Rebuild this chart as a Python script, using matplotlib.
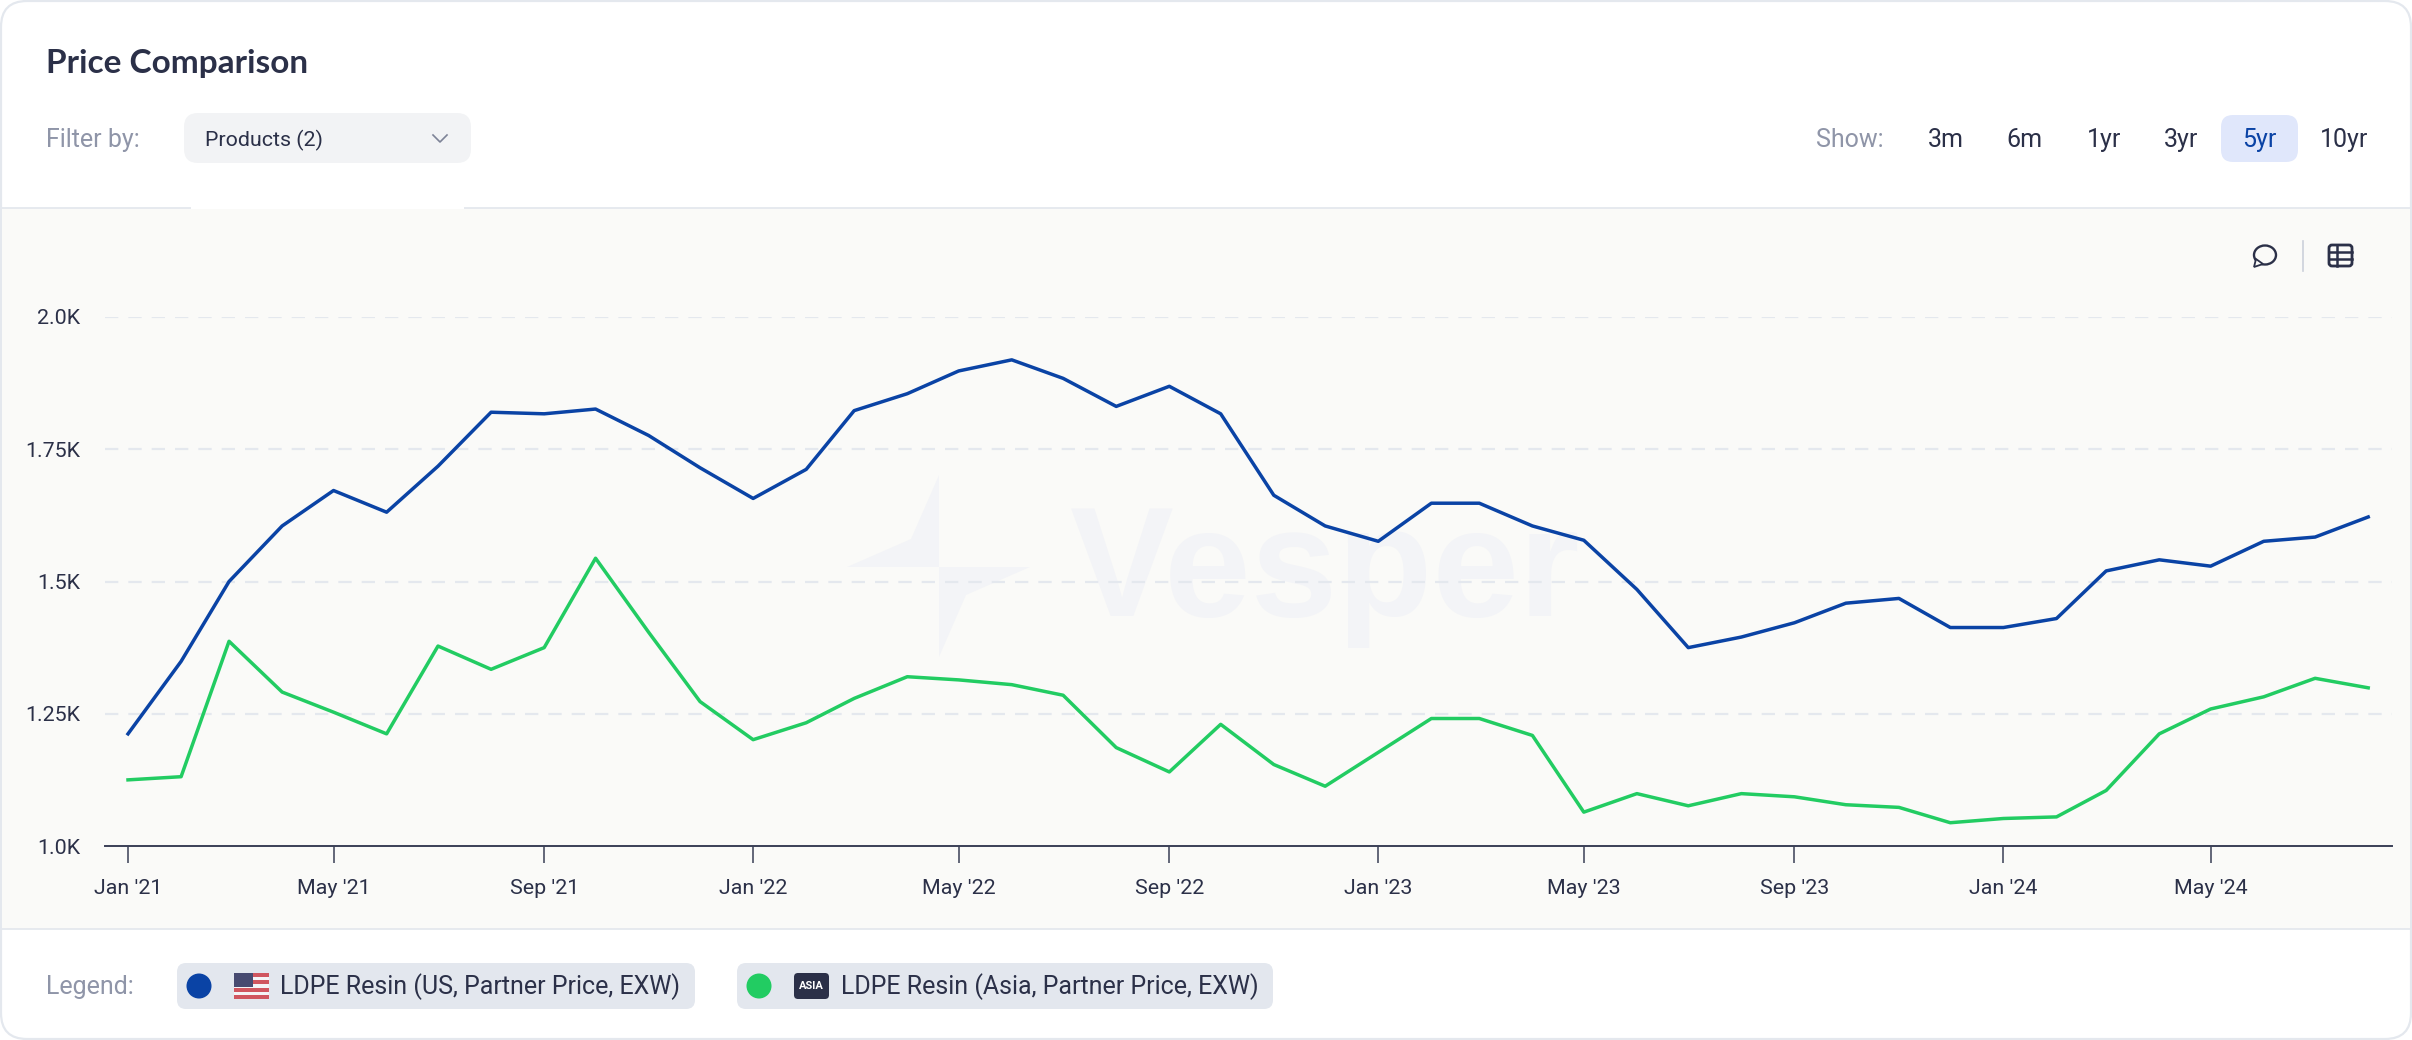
import numpy as np
import pandas as pd
import matplotlib
matplotlib.use("Agg")
import matplotlib.pyplot as plt
import matplotlib.dates as mdates
from matplotlib.patches import FancyBboxPatch, Rectangle, Polygon, Circle, Ellipse

W, H = 2412, 1040

months = pd.date_range("2021-01-01", "2024-08-01", freq="MS")
us_price = [1212, 1349, 1500, 1605, 1672, 1631, 1718, 1820, 1817, 1826, 1776, 1715,
            1657, 1712, 1823, 1855, 1898, 1919, 1884, 1831, 1869, 1817, 1663, 1605,
            1576, 1648, 1648, 1605, 1578, 1485, 1375, 1395, 1422, 1459, 1468, 1413,
            1413, 1430, 1520, 1541, 1529, 1576, 1584, 1622]
asia_price = [1125, 1131, 1387, 1291, 1253, 1212, 1378, 1334, 1375, 1544, 1404, 1273,
              1201, 1233, 1279, 1320, 1314, 1305, 1285, 1186, 1140, 1230, 1154, 1113,
              1177, 1241, 1241, 1209, 1064, 1099, 1076, 1099, 1093, 1078, 1073, 1044,
              1052, 1055, 1105, 1212, 1259, 1282, 1317, 1299]
y_ticks = [1000, 1250, 1500, 1750, 2000]
y_labels = ["1.0K", "1.25K", "1.5K", "1.75K", "2.0K"]
show_options = ["3m", "6m", "1yr", "3yr", "5yr", "10yr"]
legend_us = "LDPE Resin (US, Partner Price, EXW)"
legend_asia = "LDPE Resin (Asia, Partner Price, EXW)"

DARK = "#2b3048"
GREY = "#8f95a8"
BLUE = "#0a43a5"
GREEN = "#22cc62"
LINE = "#e4e8ee"
FONT = "Roboto"

plt.rcParams["font.family"] = [FONT, "DejaVu Sans"]

fig = plt.figure(figsize=(W / 100, H / 100), dpi=100, facecolor="white")

# whole figure canvas in pixels for the page furniture
ui = fig.add_axes([0, 0, 1, 1])
ui.set_xlim(0, W)
ui.set_ylim(H, 0)
ui.axis("off")


def rrect(x0, y0, x1, y1, r, fc, ec="none", lw=0, z=2):
    p = FancyBboxPatch((x0 + r, y0 + r), x1 - x0 - 2 * r, y1 - y0 - 2 * r,
                       boxstyle=f"round,pad={r},rounding_size={r}",
                       fc=fc, ec=ec, lw=lw, zorder=z)
    ui.add_patch(p)
    return p


def label(x, y, s, size=18, color=DARK, ha="left", **kw):
    ui.text(x, y, s, fontsize=size, color=color, ha=ha, va="center", zorder=5, **kw)


# card and chart panel
rrect(1, 1, W - 1, H - 1, 26, "white", ec=LINE, lw=1.6, z=1)
ui.add_patch(Rectangle((2, 208), W - 4, 721, fc="#fafaf8", ec="none", zorder=1.5))
ui.plot([2, W - 2], [207.5, 207.5], color=LINE, lw=1.3, zorder=2)
ui.plot([2, W - 2], [929, 929], color=LINE, lw=1.3, zorder=2)
ui.plot([192, 463], [207.5, 207.5], color="white", lw=1.5, zorder=2.1)

# header
label(46, 63, "Price Comparison", size=24, family="Lato", weight="bold")
label(46, 140, "Filter by:", color=GREY)
rrect(184, 113, 471, 163, 14, "#f2f3f5")
label(205, 140, "Products (2)", size=15.4)
ui.plot([433, 440, 447], [135, 142, 135], color="#7d8397", lw=1.2, zorder=5)

label(1816, 140, "Show:", color=GREY)
rrect(2221, 115, 2298, 162, 12, "#e0e7fb")
for name, cx in zip(show_options, [1946, 2024, 2104, 2181, 2259, 2344]):
    label(cx, 140, name, ha="center", color=BLUE if name == "5yr" else DARK)

# panel icons
ui.add_patch(Ellipse((2265, 255), 22, 19, fc="none", ec=DARK, lw=1.7, zorder=5))
ui.add_patch(Polygon([[2256, 259], [2254, 267], [2263, 264]], fc="#fafaf8", ec=DARK, lw=1.3, zorder=5))
ui.plot([2303, 2303], [241, 271], color="#ccd0da", lw=1.2, zorder=5)
rrect(2329, 245, 2352, 266, 3, "none", ec=DARK, lw=2, z=5)
ui.plot([2329, 2352], [252, 252], color=DARK, lw=1.8, zorder=5)
ui.plot([2329, 2352], [259, 259], color=DARK, lw=1.8, zorder=5)
ui.plot([2337, 2337], [245, 266], color=DARK, lw=1.8, zorder=5)

# watermark
ui.add_patch(Polygon([[939, 475], [911, 539], [847, 567], [939, 567]], fc="#f3f4f7", ec="none", zorder=1.7))
ui.add_patch(Polygon([[939, 567], [1030, 567], [966, 595], [939, 657]], fc="#f3f4f7", ec="none", zorder=1.7))
ui.text(1070, 616, "Vesper", fontsize=112, color="#f3f4f7", family="Liberation Sans",
        weight="bold", ha="left", va="baseline", zorder=1.7)

# legend row
label(46, 987, "Legend:", color=GREY)
rrect(177, 963, 695, 1009, 9, "#e3e7ee")
rrect(737, 963, 1273, 1009, 9, "#e3e7ee")
ui.add_patch(Circle((199, 986), 12.5, fc=BLUE, ec="none", zorder=5))
ui.add_patch(Circle((759, 986), 12.5, fc=GREEN, ec="none", zorder=5))

# US flag
ui.add_patch(Rectangle((234, 973), 35, 26, fc="#f4f4f6", ec="none", zorder=5))
for i in range(0, 7, 2):
    ui.add_patch(Rectangle((234, 973 + i * 26 / 7), 35, 26 / 7, fc="#d0565f", ec="none", zorder=5.1))
ui.add_patch(Rectangle((234, 973), 19, 14, fc="#474a70", ec="none", zorder=5.2))
label(280, 987, legend_us)

# Asia badge
rrect(794, 973, 829, 999, 4, DARK, z=5)
ui.text(811.5, 986, "ASIA", fontsize=8, color="white", ha="center", va="center", weight="bold", zorder=6)
label(841, 987, legend_asia)

# chart axes sit on the panel, 2.0K at top edge and 1.0K on the baseline
left, right, top, bottom = 105, 2392, 317, 846
ax = fig.add_axes([left / W, 1 - bottom / H, (right - left) / W, (bottom - top) / H])
ax.patch.set_alpha(0)
px_per_day = 1.7127
t0 = mdates.date2num(pd.Timestamp("2021-01-01"))
ax.set_xlim(t0 - (128 - left) / px_per_day, t0 + (right - 128) / px_per_day)
ax.set_ylim(1000, 2000)

ax.plot(months, us_price, color=BLUE, lw=2.5, zorder=4, clip_on=False)
ax.plot(months, asia_price, color=GREEN, lw=2.5, zorder=3, clip_on=False)

ax.set_yticks(y_ticks)
ax.set_yticklabels(y_labels)
ax.xaxis.set_major_locator(mdates.MonthLocator(bymonth=[1, 5, 9]))
ax.xaxis.set_major_formatter(mdates.DateFormatter("%b '%y"))

for s in ["top", "right", "left"]:
    ax.spines[s].set_visible(False)
ax.spines["bottom"].set_color("#3a3f56")
ax.spines["bottom"].set_linewidth(1.4)
ax.tick_params(axis="x", length=12, width=1.1, color="#3a3f56", labelsize=15.4, labelcolor=DARK, pad=12)
ax.tick_params(axis="y", length=0, labelsize=15.4, labelcolor=DARK, pad=18)

for v in y_ticks[1:]:
    ax.axhline(v, color=LINE, lw=1.6, dashes=(6, 4.5), zorder=1)

fig.savefig("out.png", dpi=100, facecolor="white")
